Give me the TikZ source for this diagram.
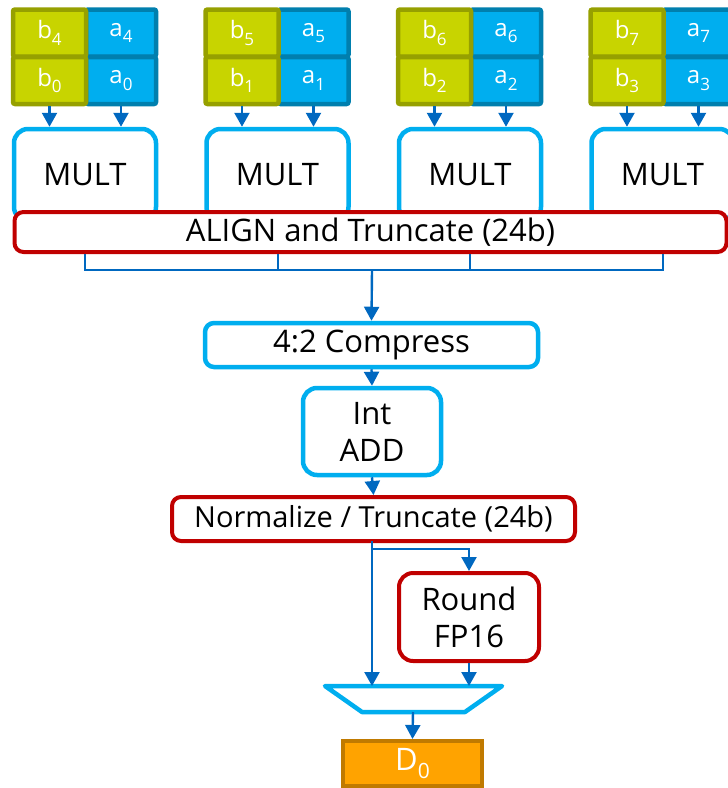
\documentclass[tikz,border=0pt]{standalone}
\usepackage{fontspec}
\setmainfont{Open Sans}
\usetikzlibrary{arrows.meta}

\definecolor{cellgreen}{HTML}{C8D400}
\definecolor{cellgreenline}{HTML}{96A000}
\definecolor{cellblue}{HTML}{00AEEF}
\definecolor{cellblueline}{HTML}{007FAE}
\definecolor{unitcyan}{HTML}{00AEEF}
\definecolor{unitred}{HTML}{C00000}
\definecolor{wireblue}{HTML}{0068C0}
\definecolor{outorange}{HTML}{FFA300}
\definecolor{outorangeline}{HTML}{C07A00}

\newcommand{\cellsub}[2]{#1\raisebox{-0.28em}{\fontsize{17}{17}\selectfont #2}}

\tikzset{
  x=1pt, y=-1pt,
  bcell/.style={draw=cellgreenline, fill=cellgreen, line width=4.5pt, rounded corners=2pt,
    minimum width=73pt, minimum height=47pt, inner sep=0pt, text=white,
    font=\fontsize{24}{24}\selectfont},
  acell/.style={bcell, draw=cellblueline, fill=cellblue, minimum width=70pt},
  cyanunit/.style={draw=unitcyan, fill=white, line width=4.5pt, rounded corners=14pt,
    inner sep=0pt, align=center, font=\fontsize{31}{37}\selectfont},
  redunit/.style={cyanunit, draw=unitred, line width=4pt, rounded corners=9pt},
  wire/.style={draw=wireblue, line width=2.4pt, -{Triangle[width=15pt,length=14pt]}},
  bus/.style={draw=wireblue, line width=2pt},
}

\begin{document}
\begin{tikzpicture}
\useasboundingbox (0,0) rectangle (728,788);

% operand registers and multipliers
\foreach \k/\hi/\lo in {0/4/0, 1/5/1, 2/6/2, 3/7/3} {
  \pgfmathsetmacro{\gx}{13+192.5*\k}
  \node[acell] (a\hi) at (\gx+108, 33) {\cellsub{a}{\hi}};
  \node[acell] (a\lo) at (\gx+108, 80.5) {\cellsub{a}{\lo}};
  \node[bcell] (b\hi) at (\gx+36.5, 33) {\cellsub{b}{\hi}};
  \node[bcell] (b\lo) at (\gx+36.5, 80.5) {\cellsub{b}{\lo}};
  \node[cyanunit, minimum width=142pt, minimum height=92pt] (mult\k) at (\gx+72, 175) {MULT};
  \draw[wire] (b\lo.south) -- (b\lo.south |- mult\k.north);
  \draw[wire] (a\lo.south) -- (a\lo.south |- mult\k.north);
}

% alignment stage
\node[redunit, minimum width=712pt, minimum height=40pt] (align) at (370.5, 232) {ALIGN and Truncate (24b)};

% reduction bus
\coordinate (bus) at (372, 270);
\draw[bus] (mult0.center |- align.south) -- (mult0.center |- bus) -- (mult3.center |- bus) -- (mult3.center |- align.south);
\draw[bus] (mult1.center |- align.south) -- (mult1.center |- bus);
\draw[bus] (mult2.center |- align.south) -- (mult2.center |- bus);

\node[cyanunit, rounded corners=9pt, minimum width=333pt, minimum height=44pt] (comp) at (371.5, 345) {4:2 Compress};
\node[cyanunit, minimum width=138pt, minimum height=87pt] (add) at (372, 431.5) {Int\\ADD};
\node[redunit, minimum width=403pt, minimum height=44pt, font=\fontsize{29}{35}\selectfont] (norm) at (373.5, 519) {Normalize / Truncate (24b)};
\node[redunit, rounded corners=14pt, minimum width=140pt, minimum height=88pt] (round) at (469, 617) {Round\\FP16};

\draw[wire] (bus) -- (comp.north);
\draw[wire] (comp.south) -- (add.north);
\draw[wire] (add.south) -- (norm.north);

% output select
\coordinate (muxtop) at (413, 686);
\coordinate (muxbot) at (413, 712);
\draw[draw=unitcyan, fill=white, line width=4.5pt, line join=round]
  (325, 686) -- (502, 686) -- (465, 712) -- (362, 712) -- cycle;

\coordinate (split) at (372, 549);
\draw[wire] (372, 541) -- (split |- muxtop);
\draw[wire] (split) -- (round.north |- split) -- (round.north);
\draw[wire] (round.south) -- (round.south |- muxtop);

\node[draw=outorangeline, fill=outorange, line width=4pt, minimum width=139pt, minimum height=45pt,
  inner sep=0pt, text=white, font=\fontsize{31}{31}\selectfont] (d0) at (412.5, 763.5)
  {D\raisebox{-0.28em}{\fontsize{21}{21}\selectfont 0}};
\draw[wire] (muxbot) -- (d0.north);
\end{tikzpicture}
\end{document}
